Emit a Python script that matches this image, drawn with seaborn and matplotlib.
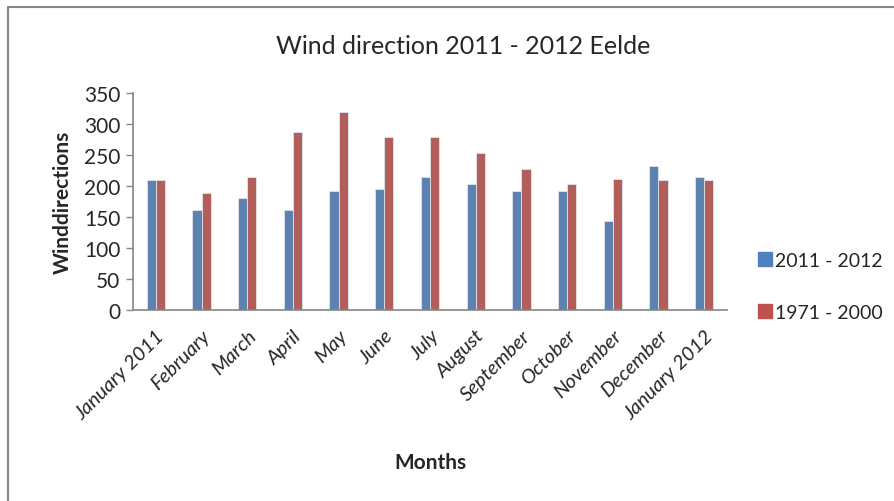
import matplotlib
matplotlib.use("Agg")
import matplotlib.pyplot as plt
import pandas as pd
import seaborn as sns
from matplotlib.lines import Line2D
from matplotlib.patches import Rectangle

MONTHS = ["January 2011", "February", "March", "April", "May", "June", "July",
          "August", "September", "October", "November", "December", "January 2012"]
WIND_2011_2012 = [209, 162, 181, 162, 192, 195, 215, 204, 192, 192, 143, 232, 215]
WIND_1971_2000 = [209, 189, 215, 287, 320, 279, 279, 253, 228, 204, 211, 209, 209]
SERIES = ["2011 - 2012", "1971 - 2000"]
COLORS = {"2011 - 2012": "#4F81BD", "1971 - 2000": "#C0504D"}
Y_TICKS = [0, 50, 100, 150, 200, 250, 300, 350]

sns.set_theme(style="white")
plt.rcParams["font.family"] = ["Lato", "DejaVu Sans"]

df = pd.DataFrame({
    "Months": MONTHS * 2,
    "value": WIND_2011_2012 + WIND_1971_2000,
    "series": [SERIES[0]] * len(MONTHS) + [SERIES[1]] * len(MONTHS),
})

fig = plt.figure(figsize=(8.94, 5.02), dpi=100)
ax = fig.add_axes([133 / 894, 1 - 311 / 502, 594 / 894, 217 / 502])

sns.barplot(data=df, x="Months", y="value", hue="series", order=MONTHS,
            hue_order=SERIES, palette=COLORS, width=0.4, ax=ax,
            edgecolor="#dde6f0", linewidth=0.6, legend=False)

ax.set_ylim(0, 350)
ax.set_yticks(Y_TICKS)
ax.set_yticklabels([str(v) for v in Y_TICKS], fontsize=15)
ax.set_xlim(-0.5, len(MONTHS) - 0.5)
ax.set_xticks(range(len(MONTHS)))
ax.set_xticklabels(MONTHS, rotation=45, ha="right", rotation_mode="anchor",
                   fontsize=14.5, style="italic")
ax.tick_params(axis="y", length=5, width=1, color="#868686", direction="out", left=True, pad=4)
ax.tick_params(axis="x", length=0, pad=12)
for s in ["top", "right"]:
    ax.spines[s].set_visible(False)
for s in ["left", "bottom"]:
    ax.spines[s].set_color("#868686")
    ax.spines[s].set_linewidth(1.2)
ax.grid(False)

ax.set_ylabel("Winddirections", fontsize=15, fontweight="bold", labelpad=8)
ax.set_xlabel("")
fig.text(430 / 894, 1 - 463 / 502, "Months", ha="center", va="center",
         fontsize=15, fontweight="bold")
fig.text(463 / 894, 1 - 47 / 502, "Wind direction 2011 - 2012 Eelde",
         ha="center", va="center", fontsize=18)

handles = [Line2D([0], [0], marker="s", linestyle="", markersize=10,
                  markerfacecolor=COLORS[s], markeredgecolor=COLORS[s]) for s in SERIES]
fig.legend(handles, SERIES, loc="upper left", bbox_to_anchor=(755 / 894, 1 - 253 / 502),
           frameon=False, fontsize=14, labelspacing=1.8, handletextpad=0.05,
           handlelength=1.0, borderaxespad=0, borderpad=0)

fig.patches.append(Rectangle((8 / 894, -0.1), 1.2, (1 - 8 / 502) + 0.1,
                             transform=fig.transFigure, fill=False,
                             edgecolor="#868686", linewidth=1.5))

fig.savefig("out.png", dpi=100)
